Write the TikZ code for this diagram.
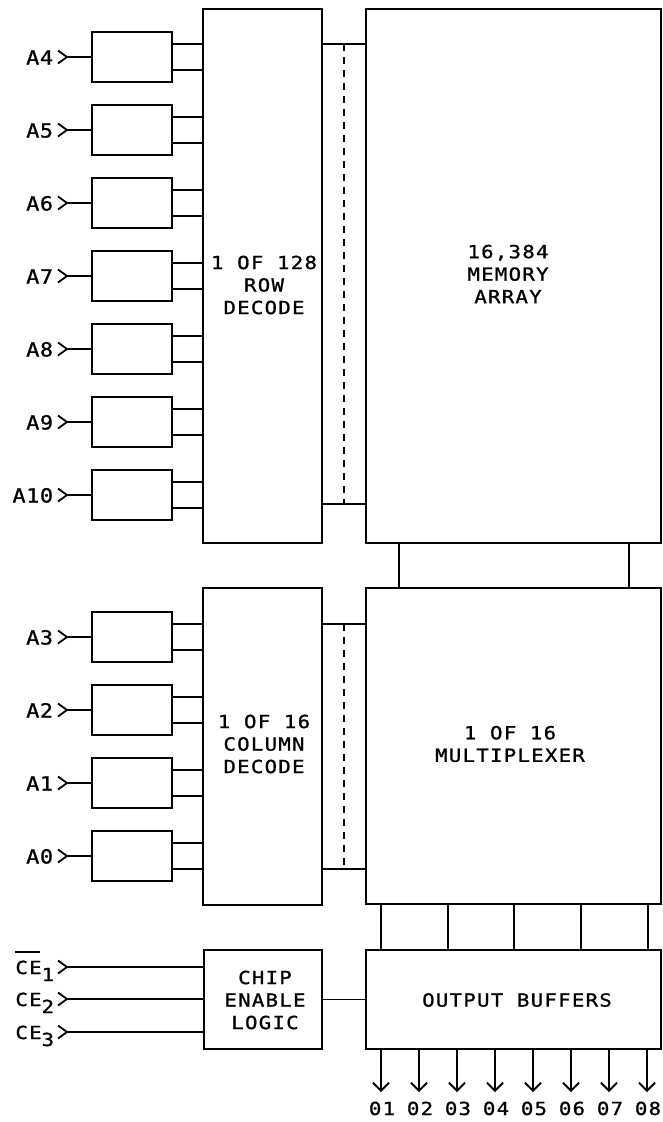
\documentclass[tikz,border=0pt]{standalone}
\usepackage{fontspec}
\newfontfamily\lblfont[LetterSpace=7,FakeStretch=1.15,FakeBold=1.1]{DejaVu Sans Mono}
\newfontfamily\pinfont[LetterSpace=3,FakeStretch=1.12,FakeBold=1.1]{DejaVu Sans Mono}
\usetikzlibrary{arrows.meta}
\begin{document}
\begin{tikzpicture}[x=1pt,y=-1pt,line width=1.8pt,
  lbl/.style={font=\lblfont\fontsize{18}{22.5}\selectfont,inner sep=0pt},
  pin/.style={font=\pinfont\fontsize{19.5}{22.5}\selectfont,inner sep=0pt},
  txt/.style={lbl,align=center},
  box/.style={draw,rectangle,inner sep=0pt},
  ibox/.style={box,minimum width=80pt,minimum height=50pt},
  dashwire/.style={dash pattern=on 7pt off 6pt},
  outarrow/.style={-{Straight Barb[length=8pt,width=16pt]}}]
\useasboundingbox (0,0) rectangle (663,1122);
% main blocks
\node[box,minimum width=119pt,minimum height=534pt] (rowdec) at (262.5,276) {};
\node[box,minimum width=295pt,minimum height=534pt] (mem) at (513.5,276) {};
\node[box,minimum width=119pt,minimum height=317pt] (coldec) at (262.5,746.5) {};
\node[box,minimum width=295pt,minimum height=316pt] (mux) at (513.5,746) {};
\node[box,minimum width=118pt,minimum height=99pt] (cel) at (263,999.5) {};
\node[box,minimum width=295pt,minimum height=99pt] (obuf) at (513.5,999.5) {};
% texts
\node[txt] (trow) at (264,285) {1 OF 128\\ROW\\DECODE};
\node[txt] (tmem) at (508,274) {16,384\\MEMORY\\ARRAY};
\node[txt] (tcol) at (264,744) {1 OF 16\\COLUMN\\DECODE};
\node[txt] (tmux) at (510,744) {1 OF 16\\MULTIPLEXER};
\node[txt] (tcel) at (265,1000) {CHIP\\ENABLE\\LOGIC};
\node[txt] (tobuf) at (517,1000) {OUTPUT BUFFERS};
% row address inputs
\foreach \n/\yy [count=\i] in {A4/57,A5/130,A6/203,A7/276,A8/349,A9/422,A10/495} {
  \node[ibox] (rin\i) at (132,\yy) {};
  \coordinate (rtip\i) at (67,\yy);
  \draw[line join=miter] (58,\yy-6.5) -- (rtip\i) -- (58,\yy+6.5);
  \draw (rtip\i) -- (rin\i.west);
  \node[pin,anchor=base east] (rl\i) at (54,\yy+7.5) {\n};
  \coordinate (ra\i) at ([yshift=13pt]rin\i.east);
  \coordinate (rb\i) at ([yshift=-13pt]rin\i.east);
  \draw (ra\i) -- (ra\i -| rowdec.west);
  \draw (rb\i) -- (rb\i -| rowdec.west);
}
% column address inputs
\foreach \n/\yy [count=\i] in {A3/637,A2/710,A1/783,A0/856} {
  \node[ibox] (cin\i) at (132,\yy) {};
  \coordinate (ctip\i) at (67,\yy);
  \draw[line join=miter] (58,\yy-6.5) -- (ctip\i) -- (58,\yy+6.5);
  \draw (ctip\i) -- (cin\i.west);
  \node[pin,anchor=base east] (cl\i) at (54,\yy+7.5) {\n};
  \coordinate (ca\i) at ([yshift=13pt]cin\i.east);
  \coordinate (cb\i) at ([yshift=-13pt]cin\i.east);
  \draw (ca\i) -- (ca\i -| coldec.west);
  \draw (cb\i) -- (cb\i -| coldec.west);
}
% row decode to memory
\coordinate (rtop) at (344,44);
\coordinate (rbot) at (344,504);
\draw (rtop -| rowdec.east) -- (rtop -| mem.west);
\draw (rbot -| rowdec.east) -- (rbot -| mem.west);
\draw[dashwire] (rtop) -- (rbot);
% column decode to multiplexer
\coordinate (ctop) at (344,624);
\coordinate (cbot) at (344,869);
\draw (ctop -| coldec.east) -- (ctop -| mux.west);
\draw (cbot -| coldec.east) -- (cbot -| mux.west);
\draw[dashwire] (ctop) -- (cbot);
% memory to multiplexer
\foreach \x [count=\i] in {399,629} {
  \coordinate (mm\i) at (\x,566);
  \draw (mem.south -| mm\i) -- (mux.north -| mm\i);
}
% multiplexer to output buffers
\foreach \x [count=\i] in {381,448,514,581,648} {
  \coordinate (mo\i) at (\x,927);
  \draw (mux.south -| mo\i) -- (obuf.north -| mo\i);
}
% chip enable inputs
\foreach \yy [count=\i] in {967,999,1032} {
  \coordinate (etip\i) at (67,\yy);
  \draw[line join=miter] (58,\yy-6.5) -- (etip\i) -- (58,\yy+6.5);
  \draw (etip\i) -- (etip\i -| cel.west);
}
\node[lbl,anchor=base east] (el1) at (55,974) {\rlap{\raisebox{21.5pt}{\rule{25pt}{1.6pt}}}CE\raisebox{-7pt}{1}};
\node[lbl,anchor=base east] (el2) at (55,1006) {CE\raisebox{-7pt}{2}};
\node[lbl,anchor=base east] (el3) at (55,1039) {CE\raisebox{-7pt}{3}};
\draw (cel.east) -- (obuf.west);
% outputs
\foreach \x/\t [count=\i] in {381/01,419/02,457/03,495/04,533/05,571/06,609/07,647/08} {
  \coordinate (oe\i) at (\x,1092);
  \draw[outarrow] (obuf.south -| oe\i) -- (oe\i);
  \node[lbl,anchor=base] (ol\i) at (\x+1,1115) {\t};
}
\end{tikzpicture}
\end{document}
